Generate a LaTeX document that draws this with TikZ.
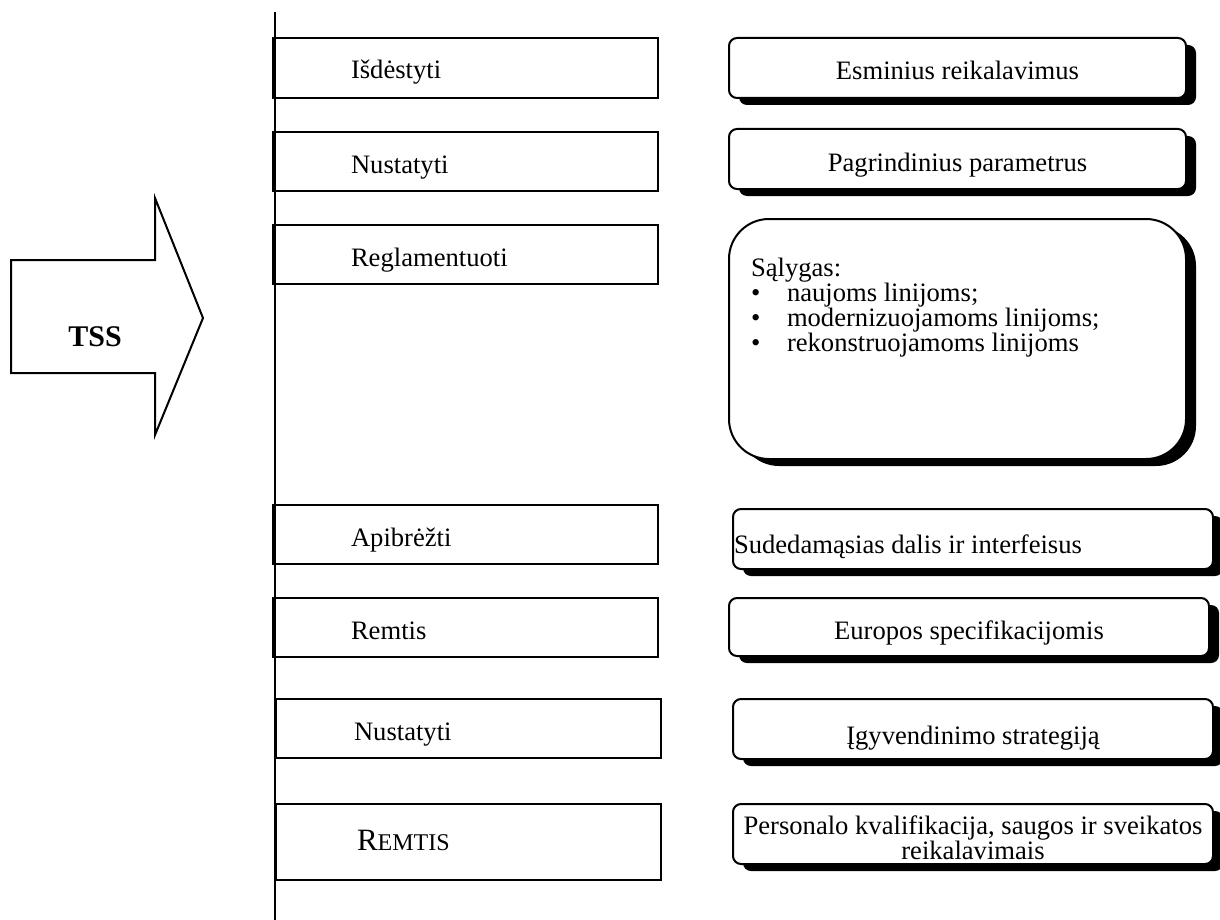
\documentclass[tikz,border=0pt]{standalone}
\usepackage{fontspec}
\setmainfont{Liberation Serif}
\usepackage{tikz}
\usetikzlibrary{positioning,shadows}
\newcommand{\lbul}{\makebox[18pt][l]{\textbullet}}

\begin{document}
\begin{tikzpicture}[x=0.5pt, y=-0.5pt,
   stage/.style={draw, line width=1pt, anchor=north west, inner xsep=39pt,
                 inner ysep=0pt, text width=114.5pt, minimum width=192.5pt,
                 align=flush left, text height=20.5pt, text depth=9.5pt,
                 font=\fontsize{13.3}{12.5}\selectfont},
   goal/.style={draw, line width=1pt, rounded corners=4pt, fill=white,
                anchor=north west, inner ysep=0pt, minimum width=228.5pt,
                align=center, text height=21pt, text depth=9pt,
                font=\fontsize{13.3}{12.5}\selectfont,
                drop shadow={shadow xshift=5pt, shadow yshift=-3.5pt,
                             fill=black, opacity=1}}]
  \useasboundingbox (0,0) rectangle (1220,920);

  % input arrow
  \draw[line width=1pt] (11,260) -- (155,260) -- (155,198) -- (203,318)
     -- (155,435) -- (155,373) -- (11,373) -- cycle;
  \node[font=\fontsize{15}{15}\selectfont\bfseries] (tss) at (95,337) {TSS};

  \draw[line width=1pt] (275,12) -- (275,920);

  % actions
  \node[stage] (isdestyti) at (272,37) {Išdėstyti};
  \node[stage, text depth=9pt] (nustatyti) at (272,131) {Nustatyti};
  \node[stage, text depth=9pt] (reglam) at (272,224) {Reglamentuoti};
  \node[stage, text depth=9pt] (apibrezti) at (272,504) {Apibrėžti};
  \node[stage, text depth=9pt] (remtis) at (272,597) {Remtis};
  \node[stage, text depth=9pt] (nustatytib) at (275,698) {Nustatyti};
  \node[stage, text height=23pt, text depth=15pt, inner xsep=40.5pt, text width=111.5pt] (remtisb) at (275,803)
     {{\fontsize{15.5}{15}\selectfont R}{\fontsize{12}{12}\selectfont EMTIS}};

  % objects
  \node[goal] (esminius) at (728,37) {Esminius reikalavimus};
  \node[goal] (param) at (728,128) {Pagrindinius parametrus};
  \node[goal, rounded corners=20pt, align=flush left, text width=206.5pt, inner xsep=11pt,
        text height=28.5pt, text depth=91.5pt] (salygos) at (728,218)
     {Sąlygas:\\
      \lbul naujoms linijoms;\\
      \lbul modernizuojamoms linijoms;\\
      \lbul rekonstruojamoms linijoms};
  \node[goal, align=flush left, text width=239pt, inner xsep=0.5pt, text height=22pt,
        text depth=8pt] (dalys) at (732,508) {Sudedamąsias dalis ir interfeisus};
  \node[goal, minimum width=240pt, text height=20.5pt, text depth=8.5pt] (europos)
     at (728,597) {Europos specifikacijomis};
  \node[goal, minimum width=240pt, text height=22.5pt, text depth=7.5pt] (strategija)
     at (732,698) {Įgyvendinimo strategiją};
  \node[goal, minimum width=240pt, text height=27.5pt, text depth=2.5pt] (personalas)
     at (732,803) {Personalo kvalifikacija, saugos ir sveikatos\\ reikalavimais};
\end{tikzpicture}
\end{document}
